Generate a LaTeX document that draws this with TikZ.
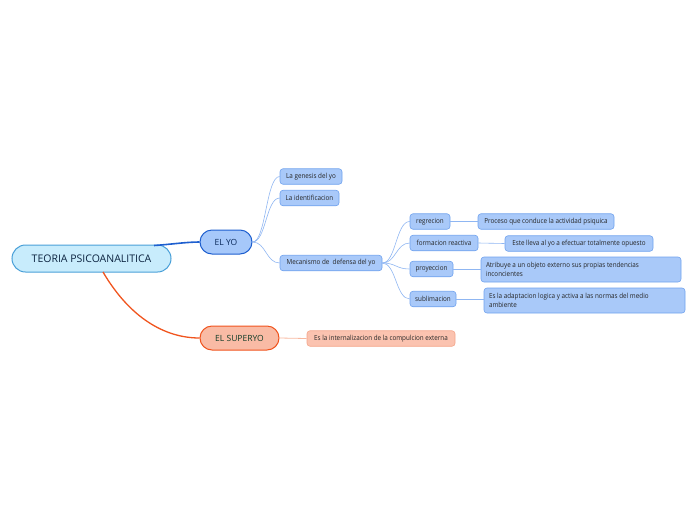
\documentclass[tikz,border=0pt]{standalone}
\usepackage{fontspec}
\setmainfont{Open Sans}
\newfontfamily\condfont[FakeStretch=0.9]{Open Sans}
\usetikzlibrary{shapes.misc}
\definecolor{rootfill}{HTML}{C8ECFC}
\definecolor{rootdraw}{HTML}{4AA0D8}
\definecolor{yofill}{HTML}{A6C8FA}
\definecolor{yodraw}{HTML}{1E5FCF}
\definecolor{subfill}{HTML}{A9C9F9}
\definecolor{subdraw}{HTML}{70A2EE}
\definecolor{supfill}{HTML}{F9BBA5}
\definecolor{supdraw}{HTML}{F0541E}
\definecolor{supsubfill}{HTML}{FBC3B0}
\definecolor{supsubdraw}{HTML}{F4A58A}
\definecolor{blueline}{HTML}{1E5FCF}
\definecolor{lightblueline}{HTML}{8FB6F2}
\definecolor{orangeline}{HTML}{F0541E}
\definecolor{lightorange}{HTML}{F8B8A0}
\definecolor{roottext}{HTML}{0B2340}
\definecolor{yotext}{HTML}{0B2A5C}
\definecolor{suptext}{HTML}{123D28}
\tikzset{
  x=1pt, y=-1pt,
  rootbox/.style={rounded rectangle, draw=rootdraw, fill=rootfill, line width=1pt, minimum width=159pt, minimum height=27pt, font=\fontsize{10.5}{12}\selectfont, text=roottext, inner sep=0pt},
  mainbox/.style={rounded rectangle, line width=1pt, minimum height=24pt, font=\fontsize{8.5}{10}\selectfont, inner sep=0pt},
  subbox/.style={rectangle, rounded corners=3pt, draw=subdraw, fill=subfill, line width=0.6pt, minimum height=15.5pt, minimum width=#1, font=\condfont\fontsize{7}{8.5}\selectfont, text=black!85, inner xsep=5pt, inner ysep=0pt},
  twoline/.style={subbox=#1, minimum height=25pt, text width=#1-10pt, align=flush left},
  bluecon/.style={draw=lightblueline, line width=0.6pt},
}
\begin{document}
\begin{tikzpicture}
\useasboundingbox (0,0) rectangle (696,520);
\node[rootbox] (root) at (91.5,258.5) {TEORIA PSICOANALITICA};
\node[mainbox, draw=yodraw, fill=yofill, text=yotext, minimum width=52pt] (yo) at (226,242) {EL YO};
\node[mainbox, draw=supdraw, fill=supfill, text=suptext, minimum width=79pt] (sup) at (239.5,338) {EL SUPERYO};

\node[subbox=62pt] (gen) at (311,176.5) {La genesis del yo};
\node[subbox=59pt] (ide) at (309.5,198) {La identificacion};
\node[subbox=102pt] (mec) at (331,263) {Mecanismo de \ defensa del yo};

\node[subbox=40pt] (reg) at (430,221.5) {regrecion};
\node[subbox=68pt] (for) at (444,243) {formacion reactiva};
\node[subbox=43pt] (pro) at (431.5,269) {proyeccion};
\node[subbox=46pt] (sub) at (433,299) {sublimacion};

\node[subbox=136pt] (dreg) at (546,221.5) {Proceso que conduce la actividad psiquica};
\node[subbox=148pt] (dfor) at (579,243.5) {Este lleva al yo a efectuar totalmente opuesto};
\node[twoline=200pt] (dpro) at (581,269.5) {Atribuye a un objeto externo sus propias tendencias\\inconcientes};
\node[twoline=201pt] (dsub) at (584.5,300.5) {Es la adaptacion logica y activa a las normas del medio\\ambiente};

\node[subbox=148pt, draw=supsubdraw, fill=supsubfill] (dsup) at (381,338.5) {Es la internalizacion de la compulcion externa};

% main connectors
\coordinate (r1) at (154,245.5);
\coordinate (r2) at (103,272);
\draw[blueline, line width=1.6pt] (r1) .. controls (170,244.5) and (186,242) .. (yo.west);
\draw[orangeline, line width=1.3pt] (r2) .. controls (130,318) and (165,338) .. (sup.west);

% EL YO children
\foreach \t in {gen,ide,mec}
  \draw[bluecon] (yo.east) .. controls (266,242) and (266,0 |- \t.west) .. (\t.west);
% Mecanismo children
\foreach \t in {reg,for,pro,sub}
  \draw[bluecon] (mec.east) .. controls (396,263) and (396,0 |- \t.west) .. (\t.west);
% descriptions
\draw[bluecon] (reg.east) -- (dreg.west);
\draw[bluecon] (for.east) -- (dfor.west);
\draw[bluecon] (pro.east) -- (pro.east -| dpro.west);
\draw[bluecon] (sub.east) -- (sub.east -| dsub.west);
\draw[lightorange, line width=0.8pt] (sup.east) -- (dsup.west);
\end{tikzpicture}
\end{document}
